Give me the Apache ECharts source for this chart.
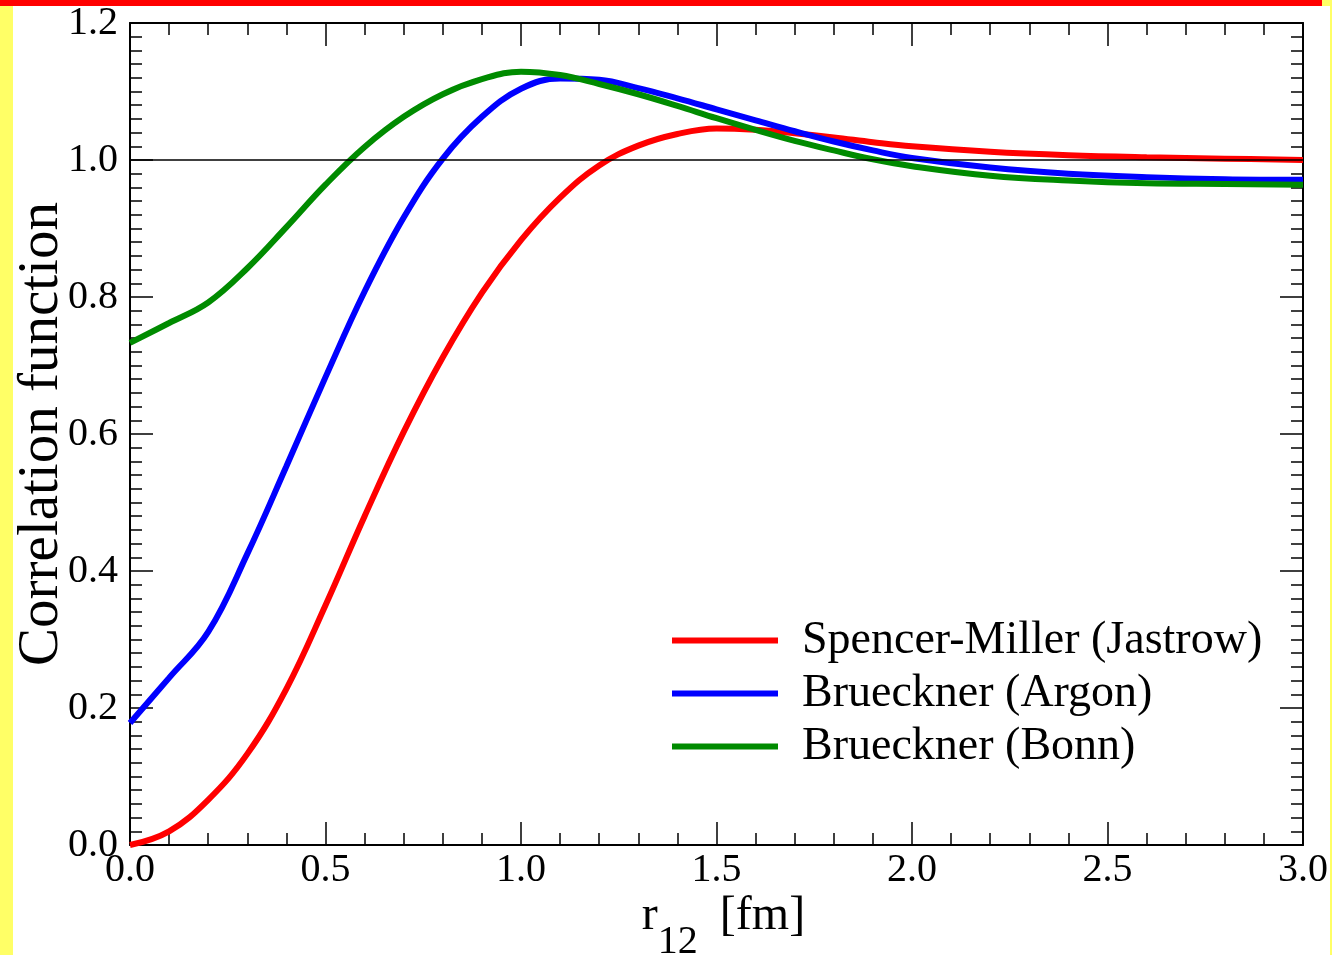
<!DOCTYPE html>
<html>
<head>
<meta charset="utf-8">
<script src="https://cdn.jsdelivr.net/npm/echarts@6/dist/echarts.min.js"></script>
<style>
html,body{margin:0;padding:0;background:#fff;overflow:hidden;}
#chart{position:absolute;left:0;top:0;width:1332px;height:955px;}
.bar{position:absolute;z-index:10;}
</style>
</head>
<body>
<div id="chart"></div>
<div class="bar" style="left:0;top:0;width:1322px;height:6px;background:#ff0000;"></div>
<div class="bar" style="left:1322px;top:0;width:10px;height:6px;background:#ffff66;"></div>
<div class="bar" style="left:0;top:6px;width:13px;height:949px;background:#ffff66;"></div>
<div class="bar" style="left:1330px;top:6px;width:2px;height:949px;background:#ffff66;"></div>
<script>
// r12 [fm]
const rValues = [0, 0.1, 0.2, 0.3, 0.4, 0.5, 0.6, 0.7, 0.8, 0.9, 1.0, 1.1, 1.2, 1.3, 1.4, 1.5, 1.6, 1.7, 1.8, 1.9, 2.0, 2.2, 2.4, 2.6, 2.8, 3.0];
const spencerMiller = [0.0, 0.02, 0.066, 0.133, 0.228, 0.350, 0.480, 0.603, 0.712, 0.806, 0.883, 0.945, 0.992, 1.021, 1.038, 1.046, 1.044, 1.039, 1.033, 1.026, 1.020, 1.012, 1.007, 1.004, 1.002, 1.0];
const bruecknerArgon = [0.178, 0.244, 0.311, 0.425, 0.553, 0.683, 0.808, 0.916, 1.002, 1.063, 1.104, 1.119, 1.117, 1.105, 1.090, 1.074, 1.058, 1.042, 1.027, 1.014, 1.003, 0.989, 0.980, 0.975, 0.972, 0.971];
const bruecknerBonn = [0.733, 0.762, 0.792, 0.842, 0.902, 0.964, 1.019, 1.063, 1.096, 1.118, 1.129, 1.124, 1.111, 1.096, 1.079, 1.061, 1.044, 1.028, 1.014, 1.001, 0.991, 0.977, 0.970, 0.966, 0.965, 0.964];
const referenceLine = [[0, 1.0], [3.0, 1.0]];
const seriesNames = ['Spencer-Miller (Jastrow)', 'Brueckner (Argon)', 'Brueckner (Bonn)'];
const seriesColors = ['#ff0000', '#0000ff', '#008b00'];

const FONT = 'Liberation Serif';
const pair = (ys) => rValues.map((x, i) => [x, ys[i]]);
const allData = [spencerMiller, bruecknerArgon, bruecknerBonn];

const axisCommon = {
  type: 'value',
  axisLine: {show: true, onZero: false, lineStyle: {color: '#000', width: 2}},
  axisTick: {show: true, inside: true, length: 23, lineStyle: {color: '#000', width: 1.5}},
  minorTick: {show: true, length: 12, lineStyle: {color: '#000', width: 1.5}},
  splitLine: {show: false},
  minorSplitLine: {show: false}
};

const chart = echarts.init(document.getElementById('chart'), null, {renderer: 'canvas'});
chart.setOption({
  backgroundColor: '#fff',
  animation: false,
  grid: {left: 130, right: 29, top: 23, bottom: 110, containLabel: false, outerBoundsMode: 'none'},
  xAxis: [
    Object.assign({}, axisCommon, {
      position: 'bottom', min: 0, max: 3, interval: 0.5,
      minorTick: Object.assign({}, axisCommon.minorTick, {splitNumber: 5}),
      axisLabel: {show: true, margin: 5, fontSize: 40, fontFamily: FONT, color: '#000', formatter: v => v.toFixed(1)},
      name: '{r0|r}{s|12}{r| [fm]}',
      nameLocation: 'middle', nameGap: 47, nameMoveOverlap: false,
      nameTextStyle: {
        fontFamily: FONT, color: '#000',
        rich: {
          r0: {fontSize: 48, lineHeight: 48, fontFamily: FONT, color: '#000', verticalAlign: 'top', padding: [0, 0, 0, 14]},
          r: {fontSize: 48, lineHeight: 48, fontFamily: FONT, color: '#000', verticalAlign: 'top'},
          s: {fontSize: 40, lineHeight: 40, fontFamily: FONT, color: '#000', verticalAlign: 'top', padding: [30, 10, 0, 0]}
        }
      }
    }),
    Object.assign({}, axisCommon, {
      position: 'top', min: 0, max: 3, interval: 0.5,
      minorTick: Object.assign({}, axisCommon.minorTick, {splitNumber: 5}),
      axisLabel: {show: false}
    })
  ],
  yAxis: [
    Object.assign({}, axisCommon, {
      position: 'left', min: 0, max: 1.2, interval: 0.2,
      minorTick: Object.assign({}, axisCommon.minorTick, {splitNumber: 10}),
      axisLabel: {show: true, margin: 12, fontSize: 40, fontFamily: FONT, color: '#000', formatter: v => v.toFixed(1)},
      name: 'Correlation function',
      nameLocation: 'middle', nameGap: 59, nameRotate: 90, nameMoveOverlap: false,
      nameTextStyle: {fontSize: 57, fontFamily: FONT, color: '#000'}
    }),
    Object.assign({}, axisCommon, {
      position: 'right', min: 0, max: 1.2, interval: 0.2,
      minorTick: Object.assign({}, axisCommon.minorTick, {splitNumber: 10}),
      axisLabel: {show: false}
    })
  ],
  legend: {
    data: seriesNames,
    orient: 'vertical',
    left: 672, top: 614,
    padding: 0,
    itemGap: 0,
    itemWidth: 106, itemHeight: 6,
    icon: 'rect',
    textStyle: {fontSize: 46, fontFamily: FONT, color: '#000', lineHeight: 53, padding: [0, 0, 0, 19]}
  },
  series: seriesNames.map((name, i) => ({
    name: name,
    type: 'line',
    data: pair(allData[i]),
    smooth: 0.4,
    symbol: 'none',
    lineStyle: {color: seriesColors[i], width: 6},
    itemStyle: {color: seriesColors[i]},
    z: 2 + i
  })).concat([{
    name: 'unity',
    type: 'line',
    data: referenceLine,
    symbol: 'none',
    lineStyle: {color: '#000', width: 1.5},
    z: 10,
    silent: true
  }])
});
</script>
</body>
</html>
